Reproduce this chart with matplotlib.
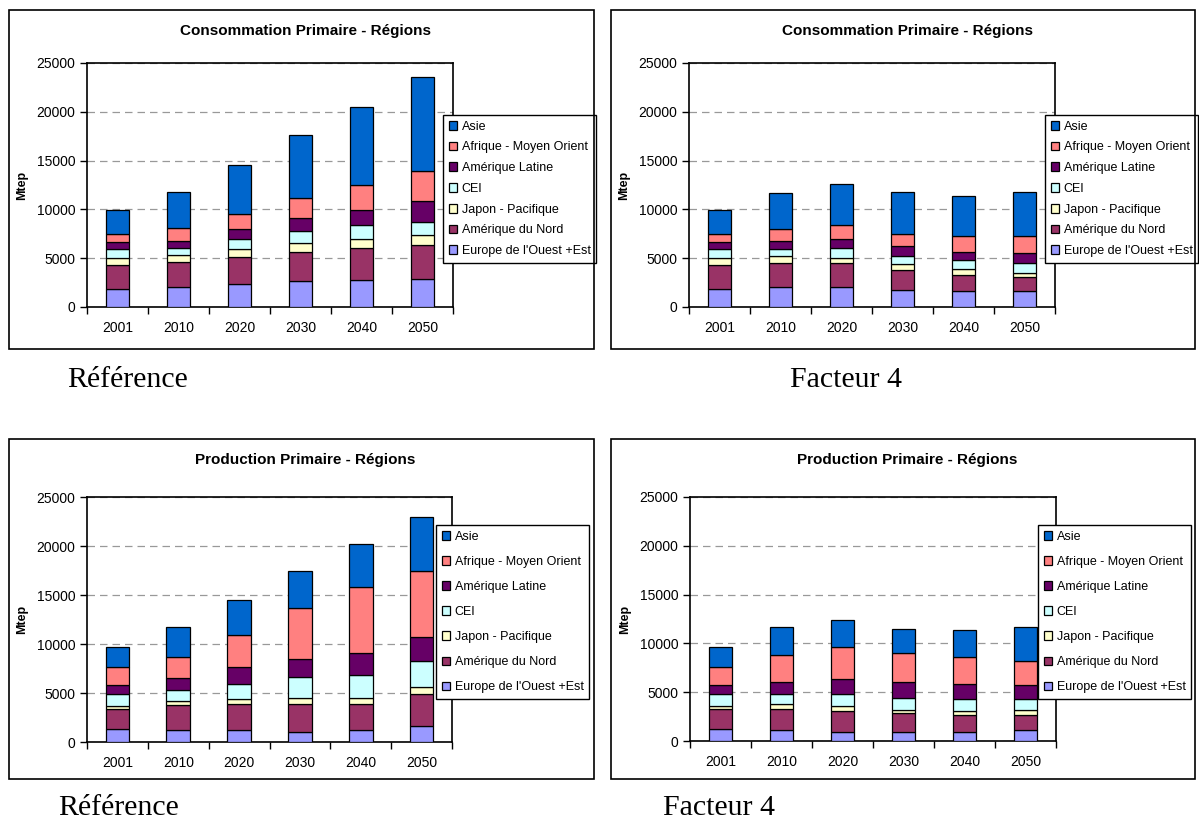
import matplotlib.pyplot as plt
import numpy as np
from matplotlib.patches import Rectangle

annees = ["2001", "2010", "2020", "2030", "2040", "2050"]
regions = ["Europe de l'Ouest +Est", "Amérique du Nord", "Japon - Pacifique",
           "CEI", "Amérique Latine", "Afrique - Moyen Orient", "Asie"]

conso_ref = [
    [1870, 2010, 2320, 2620, 2760, 2870],
    [2460, 2560, 2830, 2970, 3310, 3440],
    [720, 780, 750, 960, 890, 1020],
    [850, 690, 1020, 1220, 1430, 1430],
    [720, 750, 1030, 1330, 1500, 2050],
    [880, 1320, 1560, 2020, 2660, 3170],
    [2460, 3720, 5090, 6480, 7910, 9580],
]
conso_f4 = [
    [1870, 2010, 2010, 1740, 1600, 1600],
    [2460, 2460, 2460, 2010, 1710, 1435],
    [720, 780, 580, 650, 580, 410],
    [850, 650, 990, 780, 880, 1055],
    [720, 890, 920, 1060, 860, 990],
    [880, 1160, 1430, 1260, 1600, 1740],
    [2460, 3750, 4190, 4330, 4190, 4600],
]
prod_ref = [
    [1330, 1190, 1190, 1020, 1190, 1600],
    [2010, 2560, 2730, 2900, 2730, 3310],
    [310, 450, 450, 620, 550, 720],
    [1230, 1150, 1530, 2080, 2320, 2590],
    [920, 1130, 1740, 1870, 2280, 2450],
    [1840, 2180, 3310, 5220, 6750, 6790],
    [2080, 3070, 3510, 3790, 4400, 5460],
]
prod_f4 = [
    [1260, 1125, 955, 920, 920, 1125],
    [2050, 2150, 2145, 1945, 1740, 1535],
    [270, 475, 480, 340, 375, 510],
    [1260, 1060, 1260, 1225, 1225, 1090],
    [890, 1190, 1470, 1570, 1610, 1470],
    [1810, 2770, 3270, 3000, 2690, 2420],
    [2110, 2930, 2800, 2490, 2800, 3510],
]

couleurs = ["#9999FF", "#993366", "#FFFFCC", "#CCFFFF", "#660066", "#FF8080", "#0066CC"]

W, H = 1199, 821
fig = plt.figure(figsize=(W / 100, H / 100), dpi=100)
plt.rcParams['font.family'] = ['Liberation Sans', 'DejaVu Sans']


def px_axes(l, t, r, b):
    return [l / W, 1 - b / H, (r - l) / W, (b - t) / H]


def cadre(l, t, r, b):
    fig.patches.append(Rectangle((l / W, 1 - b / H), (r - l) / W, (b - t) / H,
                                 transform=fig.transFigure, fill=False,
                                 edgecolor="black", linewidth=1.2))


def graphe(pos, donnees, titre, leg_pos, leg_spacing, frame):
    cadre(*frame)
    ax = fig.add_axes(px_axes(*pos))
    x = np.arange(len(annees))
    bas = np.zeros(len(annees))
    barres = []
    for nom, vals, c in zip(regions, donnees, couleurs):
        b = ax.bar(x, vals, width=0.39, bottom=bas, color=c, edgecolor="black",
                   linewidth=0.9, label=nom, zorder=3)
        barres.append(b)
        bas += np.array(vals)
    ax.set_xlim(-0.5, len(annees) - 0.5)
    ax.set_ylim(0, 25000)
    ax.set_yticks(np.arange(0, 25001, 5000))
    ax.tick_params(axis="y", labelsize=10, length=5, direction="out", width=1)
    ax.set_xticks(x)
    ax.set_xticklabels(annees, fontsize=10)
    ax.tick_params(axis="x", length=0, pad=10)
    ax.set_xticks(np.arange(-0.5, len(annees), 1), minor=True)
    ax.tick_params(axis="x", which="minor", length=5, direction="out", width=1)
    ax.yaxis.grid(True, linestyle=(0, (6, 4)), color="#999999", linewidth=0.9, zorder=0)
    for s in ax.spines.values():
        s.set_linewidth(1.2)
    ax.set_ylabel("Mtep", fontsize=9, fontweight="bold", labelpad=6)
    fl, ft, fr, fb = frame
    fig.text(((fl + fr) / 2 + 4) / W, 1 - (ft + 21) / H, titre, ha="center", va="center",
             fontsize=11, fontweight="bold")
    hs = barres[::-1]
    leg = ax.legend(hs, regions[::-1], loc="upper left",
                    bbox_to_anchor=(leg_pos[0] / W, 1 - leg_pos[1] / H),
                    bbox_transform=fig.transFigure, fontsize=9, frameon=True,
                    fancybox=False, edgecolor="black", framealpha=1,
                    handlelength=0.7, handleheight=0.7, handletextpad=0.35,
                    labelspacing=leg_spacing, borderpad=0.45, borderaxespad=0)
    leg.get_frame().set_linewidth(1.0)
    leg.set_zorder(10)
    return ax


graphe((87, 63, 453, 307), conso_ref, "Consommation Primaire - Régions",
       (443, 115), 0.7, (9, 10, 594, 349))
graphe((689, 63, 1055, 307), conso_f4, "Consommation Primaire - Régions",
       (1045, 115), 0.7, (611, 10, 1195, 349))
graphe((87, 497, 452, 742), prod_ref, "Production Primaire - Régions",
       (436, 525), 1.05, (9, 439, 594, 779))
graphe((690, 497, 1056, 741), prod_f4, "Production Primaire - Régions",
       (1038, 525), 1.05, (611, 439, 1195, 779))

serif = ['Liberation Serif', 'DejaVu Serif']
fig.text(67 / W, 1 - 387 / H, "Référence", family=serif, fontsize=21.5, va="baseline")
fig.text(790 / W, 1 - 387 / H, "Facteur 4", family=serif, fontsize=21.5, va="baseline")
fig.text(58 / W, 1 - 815 / H, "Référence", family=serif, fontsize=21.5, va="baseline")
fig.text(663 / W, 1 - 815 / H, "Facteur 4", family=serif, fontsize=21.5, va="baseline")

fig.savefig("out.png", dpi=100)
